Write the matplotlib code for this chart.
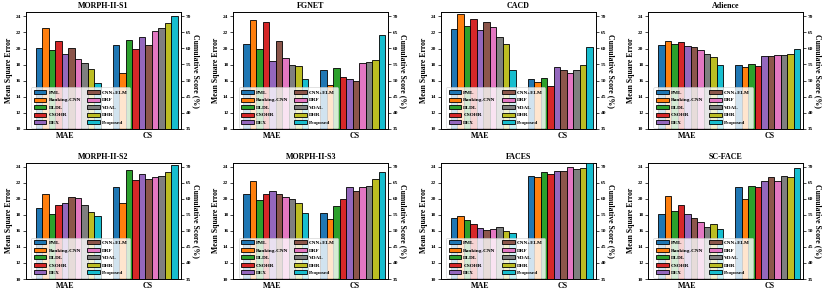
import numpy as np
import matplotlib
matplotlib.use('Agg')
import matplotlib.pyplot as plt

plt.rcParams['font.family'] = ['Liberation Serif', 'DejaVu Serif']
plt.rcParams['font.weight'] = 'bold'
plt.rcParams['axes.labelweight'] = 'bold'
plt.rcParams['axes.titleweight'] = 'bold'

methods = ['PML', 'Ranking-CNN', 'DLDL', 'CSOHR', 'DEX',
           'CNN+ELM', 'DRF', 'VDAL', 'DHR', 'Proposed']
colors = ['#1f77b4', '#ff7f0e', '#2ca02c', '#d62728', '#9467bd',
          '#8c564b', '#e377c2', '#7f7f7f', '#bcbd22', '#17becf']
groups = ['MAE', 'CS']

# MAE (left axis) and CS (right axis) per dataset
s1_mae = [20.05, 22.55, 19.76, 20.97, 19.3, 20.05, 18.72, 18.2, 17.48, 15.7]
s1_cs = [61.0, 52.5, 62.6, 59.8, 63.7, 61.0, 65.4, 66.3, 67.8, 70.2]
fgnet_mae = [20.6, 23.6, 19.9, 23.3, 18.5, 21.0, 18.8, 17.9, 17.8, 16.2]
fgnet_cs = [53.3, 48.6, 54.0, 51.2, 50.6, 49.8, 55.4, 55.7, 56.4, 64.1]
cacd_mae = [22.46, 24.3, 22.8, 23.7, 22.3, 23.3, 22.7, 21.4, 20.6, 17.3]
cacd_cs = [50.5, 49.4, 50.7, 48.2, 54.2, 53.3, 52.3, 53.3, 54.7, 60.3]
adience_mae = [20.4, 20.9, 20.55, 20.8, 20.3, 20.15, 19.8, 19.3, 19.0, 17.9]
adience_cs = [54.7, 54.2, 55.1, 54.6, 57.5, 57.5, 57.8, 58.0, 58.4, 59.8]
s2_mae = [18.87, 20.63, 18.1, 19.25, 19.5, 20.25, 20.05, 19.25, 18.3, 17.8]
s2_cs = [63.7, 58.7, 69.0, 65.7, 67.6, 66.2, 66.6, 67.1, 68.4, 70.6]
s3_mae = [20.6, 22.2, 19.85, 20.6, 21.0, 20.6, 20.2, 20.0, 19.45, 18.2]
s3_cs = [55.5, 53.7, 57.8, 60.0, 63.6, 62.5, 63.6, 64.0, 66.2, 68.3]
faces_mae = [17.6, 17.8, 17.4, 16.85, 16.35, 16.1, 16.25, 16.5, 15.95, 15.7]
faces_cs = [67.2, 66.6, 68.3, 67.8, 68.5, 68.7, 69.8, 69.2, 69.5, 71.4]
scface_mae = [18.1, 20.4, 18.5, 19.25, 18.1, 17.55, 17.1, 16.5, 16.8, 16.25]
scface_cs = [63.6, 59.9, 64.0, 63.5, 65.4, 66.6, 65.4, 67.2, 66.6, 69.4]

panels = [
    ('MORPH-II-S1', s1_mae, s1_cs),
    ('FGNET', fgnet_mae, fgnet_cs),
    ('CACD', cacd_mae, cacd_cs),
    ('Adience', adience_mae, adience_cs),
    ('MORPH-II-S2', s2_mae, s2_cs),
    ('MORPH-II-S3', s3_mae, s3_cs),
    ('FACES', faces_mae, faces_cs),
    ('SC-FACE', scface_mae, scface_cs),
]

fig, axes = plt.subplots(2, 4, figsize=(8.31, 2.96), dpi=100)
plt.subplots_adjust(left=0.031, right=0.9665, bottom=0.0574, top=0.958,
                    wspace=0.339, hspace=0.292)

w = 0.0844
offsets = (np.arange(len(methods)) - 4.5) * w

for ax, (title, mae, cs) in zip(axes.flat, panels):
    ax2 = ax.twinx()
    bars = []
    for i, m in enumerate(methods):
        b = ax.bar(0 + offsets[i], mae[i], w, color=colors[i],
                   edgecolor='black', linewidth=0.6, label=m)
        bars.append(b)
        ax2.bar(1 + offsets[i], cs[i], w, color=colors[i],
                edgecolor='black', linewidth=0.6)
    ax.set_xlim(-0.552, 1.461)
    ax.set_ylim(10, 24.5)
    ax2.set_ylim(35, 71.2)
    ax.set_yticks(np.arange(10, 25, 2))
    ax2.set_yticks(np.arange(35, 71, 5))
    ax.set_xticks([-0.04, 1.03])
    ax.set_xticklabels(groups, fontsize=5.8, fontweight='bold')
    ax.tick_params(axis='x', length=0, pad=2)
    ax.tick_params(axis='y', labelsize=3.8, length=2, width=0.5, pad=1.5)
    ax2.tick_params(axis='y', labelsize=3.8, length=2, width=0.5, pad=1.5)
    for a in (ax, ax2):
        for s in a.spines.values():
            s.set_linewidth(0.6)
    ax.set_title(title, fontsize=5.8, fontweight='bold', pad=3)
    ax.set_ylabel('Mean Square Error', fontsize=5.6, labelpad=2)
    ax2.set_ylabel('Cumulative Score (%)', fontsize=5.6, rotation=270,
                   labelpad=6)
    leg = ax2.legend(handles=bars, labels=methods, ncol=2, loc='lower left',
                     bbox_to_anchor=(0.034, 0.01, 0.64, 0.34), mode='expand',
                     fontsize=3.8, handlelength=2.4, handleheight=0.8,
                     handletextpad=0.4, columnspacing=1.0, labelspacing=0.5,
                     borderaxespad=0.0, borderpad=0.5, framealpha=0.8)
    leg.get_frame().set_linewidth(0.5)

plt.savefig('out.png', dpi=100)
